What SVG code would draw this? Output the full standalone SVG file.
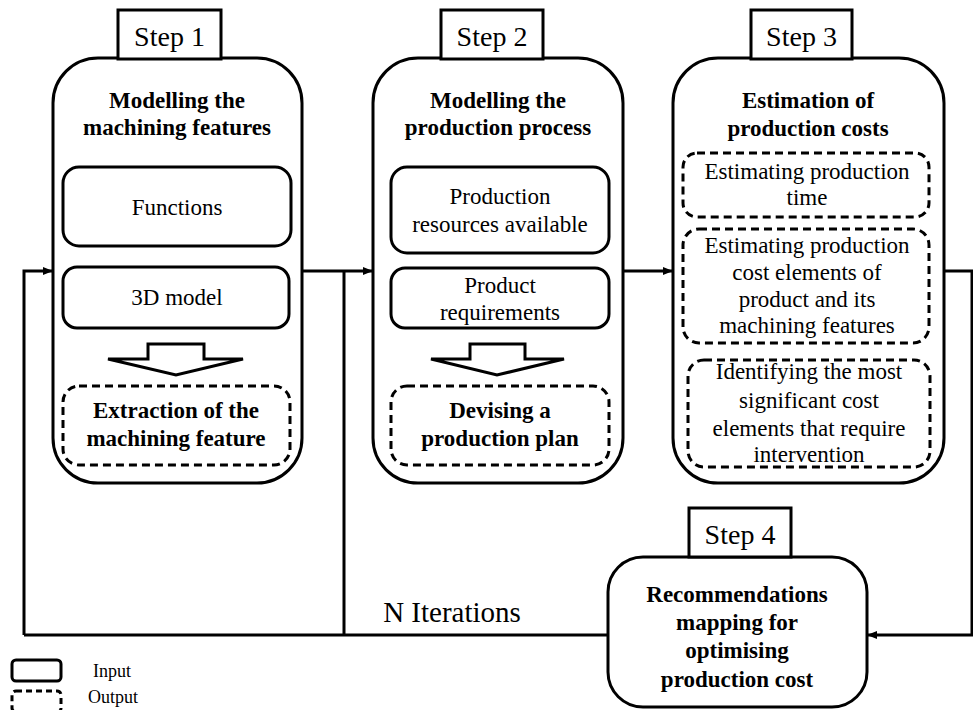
<svg xmlns="http://www.w3.org/2000/svg" width="973" height="710" viewBox="0 0 973 710">
<defs>
<style>
.box{fill:#fff;stroke:#000;stroke-width:3}
.dash{fill:#fff;stroke:#000;stroke-width:3;stroke-dasharray:8 5}
.lbl{fill:#fff;stroke:#000;stroke-width:3}
.conn{fill:none;stroke:#000;stroke-width:3}
.blk{fill:#fff;stroke:#000;stroke-width:3;stroke-linejoin:miter}
text{font-family:"Liberation Serif","Times New Roman",serif;fill:#000;text-anchor:middle}
.b{font-weight:bold;font-size:23px}
.r{font-size:23px}
.s{font-size:28px}
</style>
<marker id="ah" markerWidth="10" markerHeight="8" refX="9" refY="4" orient="auto" markerUnits="userSpaceOnUse">
<path d="M0,0 L10,4 L0,8 Z" fill="#000"/>
</marker>
</defs>

<g id="connectors">
<path class="conn" d="M302,271 H372" marker-end="url(#ah)"/>
<path class="conn" d="M344,271 V635"/>
<path class="conn" d="M24,635 V271 H52" marker-end="url(#ah)"/>
<path class="conn" d="M24,635 H608"/>
<path class="conn" d="M623,271 H672" marker-end="url(#ah)"/>
<path class="conn" d="M944,271 H972 V635 H868" marker-end="url(#ah)"/>
</g>

<g id="step1">
<rect class="box" x="53" y="58" width="249" height="425" rx="45"/>
<rect class="lbl" x="118" y="10" width="103" height="49"/>
<text class="s" x="169.500" y="46">Step 1</text>
<text class="b" x="177" y="108">Modelling the</text>
<text class="b" x="177" y="135">machining features</text>
<rect class="box" x="63" y="167" width="228" height="79" rx="16"/>
<text class="r" x="177" y="215">Functions</text>
<rect class="box" x="63" y="267" width="226" height="61" rx="14"/>
<text class="r" x="177" y="305">3D model</text>
<polygon class="blk" points="148,344 204,344 204,359 243,359 176,375 108,359 148,359"/>
<rect class="dash" x="63" y="386" width="227" height="79" rx="16"/>
<text class="b" x="176" y="418">Extraction of the</text>
<text class="b" x="176" y="446">machining feature</text>
</g>

<g id="step2">
<rect class="box" x="373" y="58" width="250" height="425" rx="45"/>
<rect class="lbl" x="441" y="10" width="102" height="49"/>
<text class="s" x="492" y="46">Step 2</text>
<text class="b" x="498" y="108">Modelling the</text>
<text class="b" x="498" y="135">production process</text>
<rect class="box" x="391" y="167" width="218" height="86" rx="16"/>
<text class="r" x="500" y="204">Production</text>
<text class="r" x="500" y="232">resources available</text>
<rect class="box" x="391" y="268" width="218" height="60" rx="14"/>
<text class="r" x="500" y="293">Product</text>
<text class="r" x="500" y="320">requirements</text>
<polygon class="blk" points="470,344 525,344 525,359 564,359 497,375 431,359 470,359"/>
<rect class="dash" x="391" y="386" width="218" height="79" rx="16"/>
<text class="b" x="500" y="418">Devising a</text>
<text class="b" x="500" y="446">production plan</text>
</g>

<g id="step3">
<rect class="box" x="673" y="58" width="271" height="425" rx="45"/>
<rect class="lbl" x="751" y="10" width="101" height="49"/>
<text class="s" x="801.500" y="46">Step 3</text>
<text class="b" x="808" y="108">Estimation of</text>
<text class="b" x="808" y="136">production costs</text>
<rect class="dash" x="683" y="153" width="246" height="64" rx="14"/>
<text class="r" x="807" y="179">Estimating production</text>
<text class="r" x="807" y="205">time</text>
<rect class="dash" x="683" y="229" width="246" height="114" rx="16"/>
<text class="r" x="807" y="253">Estimating production</text>
<text class="r" x="807" y="280">cost elements of</text>
<text class="r" x="807" y="307">product and its</text>
<text class="r" x="807" y="333">machining features</text>
<rect class="dash" x="688" y="360" width="242" height="107" rx="16"/>
<text class="r" x="809" y="379">Identifying the most</text>
<text class="r" x="809" y="408">significant cost</text>
<text class="r" x="809" y="436">elements that require</text>
<text class="r" x="809" y="462">intervention</text>
</g>

<g id="step4">
<rect class="box" x="608" y="557" width="259" height="150" rx="35"/>
<rect class="lbl" x="689" y="508" width="102" height="49"/>
<text class="s" x="740" y="544">Step 4</text>
<text class="b" x="737" y="602">Recommendations</text>
<text class="b" x="737" y="630">mapping for</text>
<text class="b" x="737" y="658">optimising</text>
<text class="b" x="737" y="687">production cost</text>
</g>

<g id="iterations">
<text x="452" y="622" style="font-size:29px">N Iterations</text>
</g>

<g id="legend">
<rect class="box" x="12" y="660" width="49" height="21" rx="4"/>
<rect class="dash" x="12" y="691" width="49" height="21" rx="4" style="stroke-dasharray:6 4"/>
<text x="112" y="677" style="font-size:18px">Input</text>
<text x="113" y="703" style="font-size:18px">Output</text>
</g>
</svg>
